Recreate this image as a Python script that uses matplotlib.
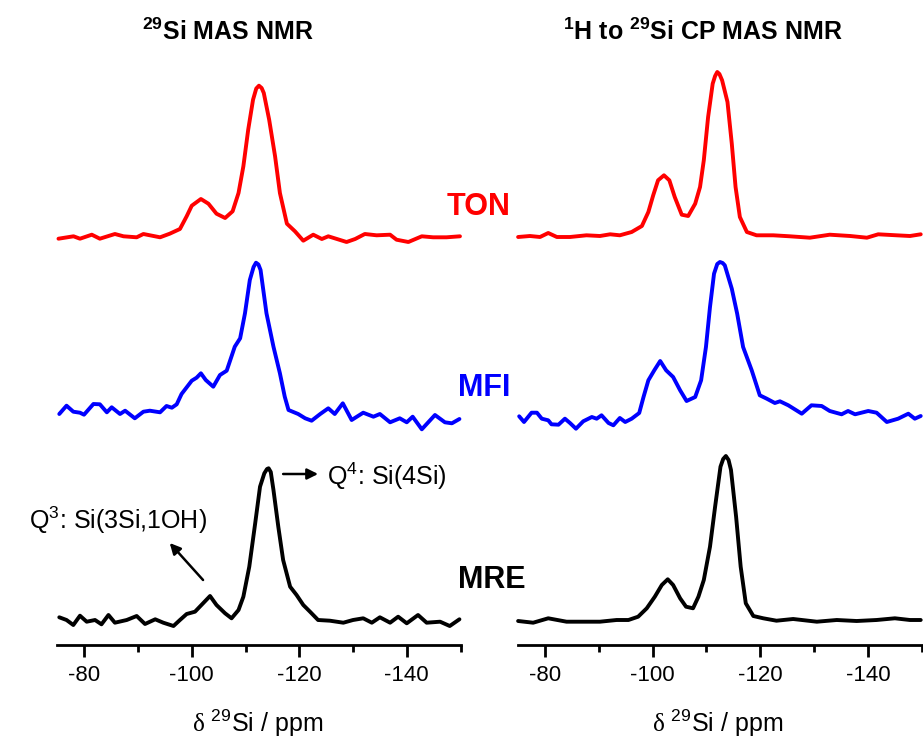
import matplotlib
matplotlib.use('Agg')
import matplotlib.pyplot as plt
from matplotlib.ticker import MultipleLocator

plt.rcParams['font.family'] = ['Liberation Sans', 'DejaVu Sans']
plt.rcParams['mathtext.fontset'] = 'custom'
plt.rcParams['mathtext.rm'] = 'Liberation Sans'
plt.rcParams['mathtext.bf'] = 'Liberation Sans:bold'
plt.rcParams['mathtext.it'] = 'Liberation Serif'
plt.rcParams['mathtext.default'] = 'regular'
plt.rcParams['axes.unicode_minus'] = False

# ---- 29Si MAS NMR (left) ----
mas_ton_ppm = [-75.2, -78.0, -79.2, -81.4, -82.9, -85.7, -87.3, -89.75, -91.0, -94.1,
               -95.9, -97.8, -99.05, -100.0, -101.7, -103.1, -104.6, -106.2, -107.6, -108.7,
               -109.6, -110.5, -111.4, -112.0, -112.5, -113.0, -113.4, -114.4, -115.5, -116.4,
               -117.7, -119.2, -120.75, -122.6, -124.2, -125.4, -128.8, -130.4, -132.2, -134.4,
               -136.9, -138.1, -140.3, -142.8, -144.9, -147.4, -149.9]
mas_ton_int = [-0.7, 1.7, -0.7, 3.3, -0.7, 4.0, 1.7, 0.7, 4.0, 0.7,
               4.3, 9.0, 21.7, 32.3, 39.0, 34.3, 24.3, 20.0, 26.7, 45.0,
               71.7, 108.3, 138.3, 149.5, 152.3, 150.0, 145.0, 118.3, 81.7, 45.0,
               14.3, 6.7, -2.7, 3.3, -1.0, 1.7, -4.0, -1.0, 4.0, 2.7,
               3.3, -1.7, -4.0, 1.7, 0.7, 0.7, 1.7]

mas_mfi_ppm = [-75.35, -76.7, -77.96, -79.2, -79.95, -81.7, -82.9, -84.2, -85.1, -86.65,
               -87.6, -89.4, -91.0, -92.2, -94.1, -95.3, -96.3, -97.2, -98.1, -100.0,
               -100.9, -101.7, -102.6, -104.0, -105.25, -106.5, -108.0, -109.0, -109.9, -110.8,
               -111.5, -111.95, -112.4, -112.8, -113.9, -115.2, -116.4, -117.3, -118.0, -119.8,
               -121.1, -122.3, -123.9, -125.4, -126.6, -128.1, -129.75, -131.9, -133.8, -135.0,
               -136.9, -138.7, -140.0, -141.1, -142.8, -145.25, -147.1, -148.4, -149.8]
mas_mfi_int = [1.0, 9.3, 3.3, 2.3, 0.3, 11.0, 10.7, 2.7, 7.7, 1.0,
               4.3, -3.3, 3.3, 4.3, 2.7, 9.0, 7.3, 10.7, 21.0, 34.3,
               37.3, 41.7, 35.0, 28.3, 40.0, 44.3, 68.3, 76.7, 101.7, 135.0,
               148.0, 152.3, 150.5, 145.0, 101.7, 68.3, 41.7, 18.3, 5.0, 1.0,
               -3.3, -5.7, 1.0, 6.7, 1.0, 11.7, -5.0, 2.3, -1.7, 1.0,
               -7.3, -3.3, -7.3, -1.7, -14.3, 0.0, -7.3, -8.3, -4.0]

mas_mre_ppm = [-75.35, -76.7, -77.96, -79.2, -80.45, -82.0, -83.2, -84.5, -85.7, -87.9,
               -89.75, -91.3, -93.2, -94.7, -96.6, -97.8, -99.05, -100.6, -102.1, -103.4,
               -104.6, -106.2, -107.4, -108.7, -109.6, -110.7, -111.8, -112.7, -113.5, -114.0,
               -114.3, -114.7, -115.2, -116.1, -117.0, -118.3, -119.5, -120.75, -122.0, -123.5,
               -125.7, -128.2, -130.0, -131.9, -133.5, -135.0, -136.9, -138.4, -140.0, -142.1,
               -143.7, -146.2, -148.0, -149.8]
mas_mre_int = [2.7, 0.0, -5.0, 4.3, -1.7, 0.0, -4.3, 5.0, -2.7, 0.0,
               4.0, -4.0, 0.7, -2.7, -6.0, 0.0, 6.0, 8.3, 16.7, 24.0,
               15.0, 6.7, 1.7, 10.0, 23.3, 53.3, 96.7, 133.3, 146.7, 151.0,
               151.7, 148.0, 130.0, 93.3, 60.0, 33.3, 25.0, 15.0, 8.3, 0.0,
               -0.7, -2.7, 0.0, 1.7, -2.7, 2.7, -2.7, 3.3, -3.3, 5.0,
               -2.7, -1.7, -6.0, 0.7]

# ---- 1H -> 29Si CP MAS NMR (right) ----
cp_ton_ppm = [-75.0, -77.2, -79.07, -80.6, -82.2, -84.64, -87.7, -90.2, -92.1, -93.9,
              -96.1, -98.0, -99.2, -100.1, -101.0, -102.1, -103.1, -104.1, -105.4, -106.6,
              -107.9, -108.8, -109.5, -110.3, -111.15, -111.6, -112.0, -112.4, -112.9, -113.9,
              -114.7, -115.4, -116.2, -117.5, -119.3, -122.4, -125.5, -129.2, -132.9, -136.7,
              -139.8, -141.9, -145.3, -147.8, -149.8]
cp_ton_int = [-1.0, 0.0, -1.0, 3.0, -1.0, -1.0, 0.7, 0.0, 1.7, 0.7,
              4.0, 10.0, 24.0, 40.7, 55.7, 60.7, 55.7, 39.0, 21.3, 20.0,
              32.3, 49.0, 75.7, 119.0, 152.3, 160.0, 164.0, 162.0, 155.7, 134.0,
              92.3, 49.0, 19.0, 4.0, 0.7, 0.7, -0.3, -1.7, 1.3, 0.0,
              -1.7, 1.7, 0.7, 0.0, 1.7]

cp_mfi_ppm = [-75.2, -76.1, -77.5, -78.5, -79.4, -80.6, -81.2, -82.5, -83.7, -84.64,
              -85.75, -87.1, -88.7, -89.6, -90.5, -91.8, -92.7, -93.9, -94.9, -96.1,
              -97.5, -98.3, -99.2, -100.3, -101.4, -102.5, -103.8, -105.1, -106.3, -107.9,
              -109.0, -109.9, -110.65, -111.4, -112.0, -112.5, -113.0, -113.4, -114.7, -115.7,
              -116.8, -118.4, -119.9, -121.2, -122.7, -123.65, -125.2, -127.7, -129.5, -131.4,
              -132.9, -135.1, -136.3, -137.6, -140.05, -141.6, -143.5, -145.6, -147.5, -148.7,
              -149.8]
cp_mfi_int = [0.7, -5.0, 4.3, 4.3, -1.7, -3.3, -7.3, -7.7, -1.7, -6.0,
              -11.7, -4.3, 0.0, -1.7, 1.7, -6.0, -8.3, -1.0, -5.0, -1.7,
              4.0, 20.0, 36.7, 46.7, 56.0, 46.7, 40.0, 26.7, 16.0, 20.0,
              36.7, 70.0, 110.0, 143.3, 153.0, 155.0, 154.0, 151.7, 128.3, 103.3,
              70.0, 46.7, 21.7, 18.3, 14.0, 15.7, 11.7, 3.3, 11.7, 11.0,
              6.0, 2.7, 6.0, 2.7, 6.0, 4.3, -5.0, -1.7, 3.3, -1.7,
              1.0]

cp_mre_ppm = [-75.0, -77.8, -80.6, -84.0, -87.1, -90.2, -93.3, -95.5, -97.3, -98.9,
              -100.4, -101.7, -102.8, -103.8, -105.1, -106.2, -107.5, -108.5, -109.5, -110.65,
              -111.6, -112.6, -113.1, -113.6, -114.1, -114.55, -115.5, -116.35, -117.3, -118.7,
              -120.55, -123.0, -126.1, -130.5, -134.2, -137.9, -141.6, -145.0, -147.8, -149.8]
cp_mre_int = [-1.0, -2.7, 1.7, -1.7, -1.7, -1.7, 0.0, 0.0, 3.3, 11.7,
              23.3, 35.0, 40.7, 35.0, 21.7, 13.3, 11.7, 23.3, 40.0, 73.3,
              113.3, 153.3, 161.0, 164.0, 160.0, 150.0, 103.3, 53.3, 16.7, 4.0,
              1.7, -0.7, 1.0, -1.7, 0.0, -1.0, 0.0, 1.7, 0.0, 0.0]

samples = ['TON', 'MFI', 'MRE']
colors = ['#ff0000', '#0000ff', '#000000']
offsets_mas = [407, 230, 25]
offsets_cp = [409, 228, 25]

W, H = 923, 746
fig = plt.figure(figsize=(W / 100, H / 100), dpi=100)
ax_l = fig.add_axes([57.4 / W, 1 - 645 / H, (460.5 - 57.4) / W, 605 / H])
ax_r = fig.add_axes([518.1 / W, 1 - 645 / H, (921.8 - 518.1) / W, 605 / H])

mas = [(mas_ton_ppm, mas_ton_int), (mas_mfi_ppm, mas_mfi_int), (mas_mre_ppm, mas_mre_int)]
cp = [(cp_ton_ppm, cp_ton_int), (cp_mfi_ppm, cp_mfi_int), (cp_mre_ppm, cp_mre_int)]

for ax, data, offs in [(ax_l, mas, offsets_mas), (ax_r, cp, offsets_cp)]:
    for (x, y), c, off in zip(data, colors, offs):
        ax.plot(x, [v + off for v in y], color=c, lw=2.8,
                solid_joinstyle='round', solid_capstyle='round', clip_on=False)
    ax.set_xlim(-75, -150)
    ax.set_ylim(0, 605)
    for s in ['top', 'left', 'right']:
        ax.spines[s].set_visible(False)
    ax.spines['bottom'].set_linewidth(2.0)
    ax.set_yticks([])
    ax.xaxis.set_major_locator(MultipleLocator(20))
    ax.xaxis.set_minor_locator(MultipleLocator(10))
    ax.tick_params(axis='x', which='major', direction='out', length=8.5, width=2.0,
                   labelsize=16, pad=6)
    ax.tick_params(axis='x', which='minor', direction='out', length=4.8, width=2.0)
    ax.patch.set_visible(False)

# annotations on the MRE trace
ax_l.annotate('', xy=(-123.5, 171), xytext=(-117.0, 171),
              arrowprops=dict(arrowstyle='-|>', color='k', lw=1.8, mutation_scale=16,
                              shrinkA=0, shrinkB=0))
ax_l.text(-125.1, 160, r'Q$^{4}$: Si(4Si)', fontsize=18, ha='left', va='baseline')
ax_l.annotate('', xy=(-95.9, 102), xytext=(-102.1, 65),
              arrowprops=dict(arrowstyle='-|>', color='k', lw=1.8, mutation_scale=16,
                              shrinkA=0, shrinkB=0))
ax_l.text(-102.8, 115.7, r'Q$^{3}$: Si(3Si,1OH)', fontsize=18, ha='right', va='baseline')

# titles
fig.text(228 / W, 1 - 40 / H, r'$^{\mathbf{29}}$Si MAS NMR', fontsize=18,
         fontweight='bold', ha='center', va='baseline')
fig.text(702.5 / W, 1 - 40 / H, r'$^{\mathbf{1}}$H to $^{\mathbf{29}}$Si CP MAS NMR',
         fontsize=18, fontweight='bold', ha='center', va='baseline')

# sample labels
fig.text(479 / W, 1 - 215 / H, samples[0], color=colors[0], fontsize=22,
         fontweight='bold', ha='center', va='baseline')
fig.text(484 / W, 1 - 396 / H, samples[1], color=colors[1], fontsize=22,
         fontweight='bold', ha='center', va='baseline')
fig.text(491.7 / W, 1 - 588.3 / H, samples[2], color=colors[2], fontsize=22,
         fontweight='bold', ha='center', va='baseline')

# x labels
xlab = r'$\mathit{\delta}$ $^{29}$Si / ppm'
fig.text(257.5 / W, 1 - 731.7 / H, xlab, fontsize=18, ha='center', va='baseline')
fig.text(717.5 / W, 1 - 731.7 / H, xlab, fontsize=18, ha='center', va='baseline')

fig.savefig('out.png', dpi=100)
